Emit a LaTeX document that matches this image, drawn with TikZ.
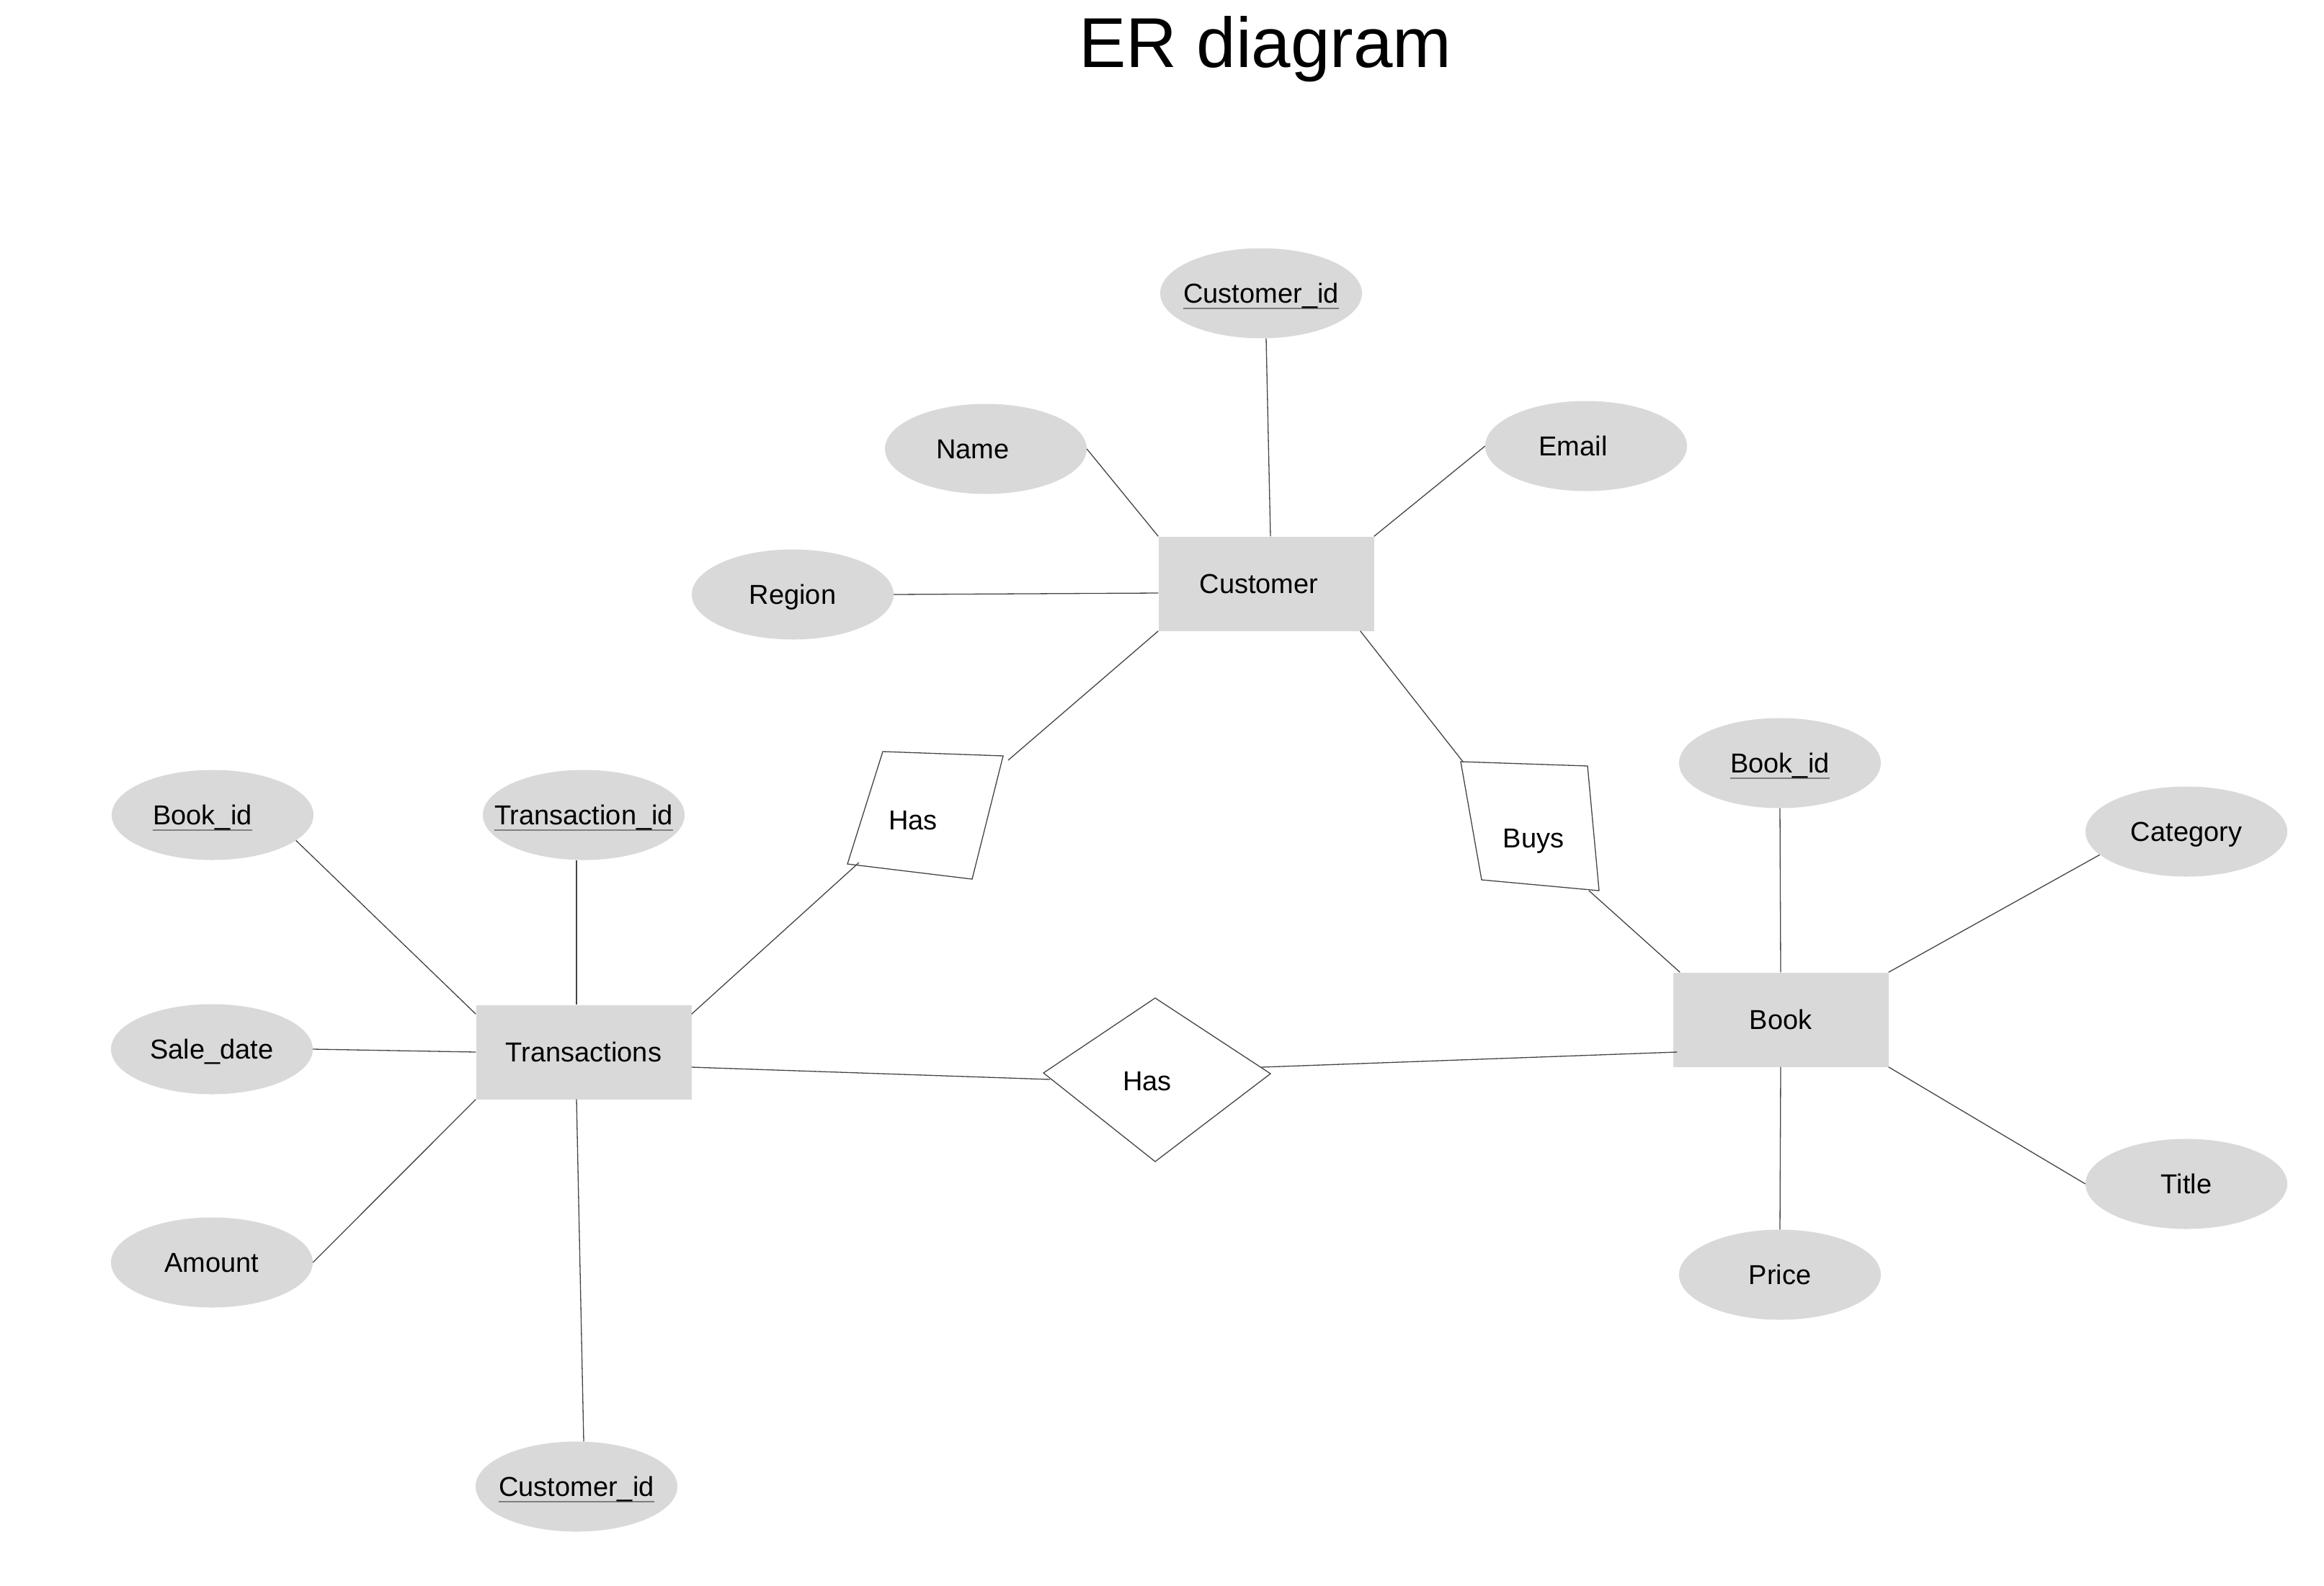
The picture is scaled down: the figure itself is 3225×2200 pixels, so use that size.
\documentclass[tikz,border=0pt]{standalone}
\usepackage{fontspec}
\setmainfont{Liberation Sans}
\usetikzlibrary{shapes.geometric,calc}
\definecolor{attrgray}{HTML}{D9D9D9}
\definecolor{linegray}{HTML}{444444}
\newcommand\keyattr[1]{\setbox0\hbox{#1}\rlap{\color{gray}\rule[-0.22em]{\wd0}{1.6pt}}\box0}
\newcommand\fixw[2][0pt]{\makebox[0pt]{\kern#1 #2}}
\begin{document}
\begin{tikzpicture}[x=1pt,y=-1pt,
  txt/.style={font=\fontsize{38}{42}\selectfont, text height=27pt, text depth=0pt},
  attr/.style={ellipse, fill=attrgray, minimum width=280, minimum height=125, inner sep=0, txt},
  entity/.style={rectangle, fill=attrgray, minimum width=299, minimum height=131, inner sep=0, txt},
  rel/.style={draw=linegray, line width=1.3pt, fill=white},
  conn/.style={draw=linegray, line width=1.3pt}]
\useasboundingbox (0,0) rectangle (3225,2200);

% title
\node[anchor=base, font=\fontsize{98}{110}\selectfont] (title) at (1756,93) {ER diagram};

% entities
\node[entity] (cust) at (1757,810) {\fixw[-20pt]{Customer}};
\node[entity] (trans) at (810,1460) {\fixw{Transactions}};
\node[entity] (book) at (2471,1415) {\fixw{Book}};

% attributes of Customer
\node[attr] (cid1) at (1750,407) {\fixw{\keyattr{Customer\_id}}};
\node[attr] (name) at (1368,623) {\fixw[-36pt]{Name}};
\node[attr] (email) at (2201,619) {\fixw[-36pt]{Email}};
\node[attr] (region) at (1100,825) {\fixw{Region}};

% attributes of Transactions
\node[attr] (bid1) at (295,1131) {\fixw[-28pt]{\keyattr{Book\_id}}};
\node[attr] (tid) at (810,1131) {\fixw{\keyattr{Transaction\_id}}};
\node[attr] (sd) at (294,1456) {\fixw{Sale\_date}};
\node[attr] (amt) at (294,1752) {\fixw{Amount}};
\node[attr] (cid2) at (800,2063) {\fixw{\keyattr{Customer\_id}}};

% attributes of Book
\node[attr] (bid2) at (2470,1059) {\fixw{\keyattr{Book\_id}}};
\node[attr] (cat) at (3034,1154) {\fixw{Category}};
\node[attr] (ttl) at (3034,1643) {\fixw{Title}};
\node[attr] (price) at (2470,1769) {\fixw{Price}};

% relationship: Has (tilted)
\coordinate (h1a) at (1225,1043);
\coordinate (h1b) at (1392,1049);
\coordinate (h1c) at (1349,1220);
\coordinate (h1d) at (1176,1199);
\draw[rel] (h1a) -- (h1b) -- (h1c) -- (h1d) -- cycle;
\node[txt] (has1) at (1267,1138) {Has};
\coordinate (has1in) at (1399,1055);
\coordinate (has1out) at (1192,1197);

% relationship: Buys
\coordinate (b1a) at (2027,1057);
\coordinate (b1b) at (2203,1063);
\coordinate (b1c) at (2219,1236);
\coordinate (b1d) at (2056,1221);
\draw[rel] (b1a) -- (b1b) -- (b1c) -- (b1d) -- cycle;
\node[txt] (buys) at (2128,1163) {Buys};
\coordinate (buysin) at (2030,1057);
\coordinate (buysout) at (2205,1236);

% relationship: Has (diamond)
\coordinate (d1l) at (1448,1489);
\coordinate (d1t) at (1603,1385);
\coordinate (d1r) at (1763,1490);
\coordinate (d1b) at (1603,1612);
\draw[rel] (d1l) -- (d1t) -- (d1r) -- (d1b) -- cycle;
\node[txt] (has2) at (1592,1500) {Has};
\coordinate (has2in) at (1457,1498);
\coordinate (has2out) at (1750,1481);

% connectors: Customer
\draw[conn] ($(cid1.south)+(7,0)$) -- ($(cust.north)+(6,0)$);
\draw[conn] (name.east) -- (cust.north west);
\draw[conn] (email.west) -- (cust.north east);
\draw[conn] (region.east) -- ($(cust.west)+(0,13)$);
\draw[conn] (cust.south west) -- (has1in);
\draw[conn] (has1out) -- ($(trans.north east)+(0,13)$);
\draw[conn] ($(cust.south east)+(-19,0)$) -- (buysin);
\draw[conn] (buysout) -- ($(book.north west)+(10,0)$);

% connectors: Transactions
\draw[conn] (bid1.-17) -- ($(trans.north west)+(0,13)$);
\draw[conn] ($(tid.south)+(-10,0)$) -- ($(trans.north)+(-10,0)$);
\draw[conn] (sd.east) -- (trans.west);
\draw[conn] (amt.east) -- (trans.south west);
\draw[conn] ($(cid2.north)+(10,0)$) -- ($(trans.south)+(-10,0)$);
\draw[conn] ($(trans.east)+(0,21)$) -- (has2in);
\draw[conn] (has2out) -- ($(book.west)+(6,45)$);

% connectors: Book
\draw[conn] (bid2.south) -- (book.north);
\draw[conn] (cat.195) -- (book.north east);
\draw[conn] (ttl.west) -- (book.south east);
\draw[conn] (price.north) -- (book.south);
\end{tikzpicture}
\end{document}
